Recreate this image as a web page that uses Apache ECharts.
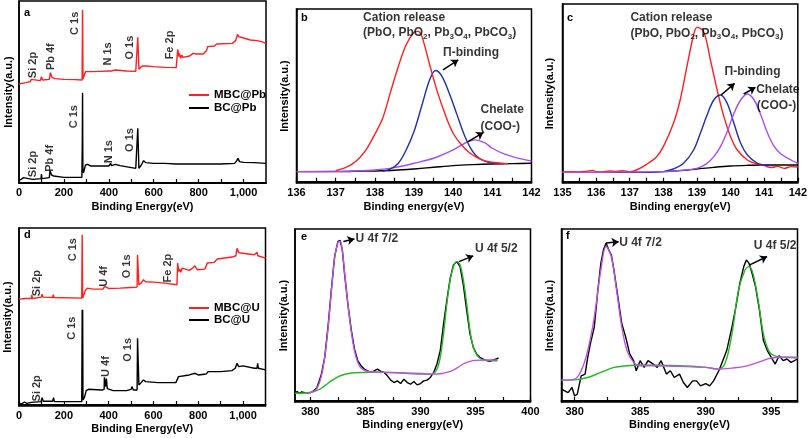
<!DOCTYPE html>
<html><head><meta charset="utf-8">
<script src="https://cdn.jsdelivr.net/npm/echarts@6/dist/echarts.min.js"></script>
<style>html,body{margin:0;padding:0;background:#fff}#c{width:810px;height:438px}</style>
</head><body><div id="c"></div><script>
const FONT = 'Liberation Sans';

// ---------- tick labels / tick positions ----------
const surveyLabels = [0, 200, 400, 600, 800, 1000];
const surveyTicks = [0, 100, 200, 300, 400, 500, 600, 700, 800, 900, 1000];
const bLabels = [136, 137, 138, 139, 140, 141, 142];
const bTicks = [136, 136.5, 137, 137.5, 138, 138.5, 139, 139.5, 140, 140.5, 141, 141.5, 142];
const cLabels = [135, 136, 137, 138, 139, 140, 141, 142];
const cTicks = [135, 135.5, 136, 136.5, 137, 137.5, 138, 138.5, 139, 139.5, 140, 140.5, 141, 141.5, 142];
const eLabels = [380, 385, 390, 395, 400];
const eTicks = [380, 382.5, 385, 387.5, 390, 392.5, 395, 397.5, 400];
const fLabels = [380, 385, 390, 395];
const fTicks = [380, 382.5, 385, 387.5, 390, 392.5, 395];

// ---------- panel a : survey, Pb ----------
const aMBC = [[0,297],[15,299],[30,301],[50,304],[55,311],[60,305],[95,307],[100,319],[105,309],[135,311],[140,331],[143,327],[147,317],[152,321],[160,313],[200,311],[250,310],[281,309],[283,519],[285,312],[290,311],[296,334],[300,337],[320,334],[360,335],[400,336],[405,342],[410,336],[430,339],[480,336],[520,335],[527,337],[529,437],[532,434],[534,341],[540,344],[548,351],[555,357],[565,351],[600,349],[650,347],[700,346],[705,345],[707,401],[710,399],[712,379],[715,389],[720,374],[725,384],[730,377],[760,381],[775,389],[780,395],[790,387],[820,387],[835,397],[840,409],[870,411],[880,417],[950,419],[965,427],[973,446],[978,439],[985,433],[1000,435],[1030,429],[1060,427],[1080,424],[1100,419]];
const aBC = [[0,9],[10,11],[20,16],[25,12],[60,11],[98,13],[100,27],[102,13],[135,16],[138,37],[142,37],[145,24],[150,27],[155,21],[160,19],[200,17],[280,17],[282,129],[283,271],[284.5,40],[287,30],[290,34],[296,54],[305,56],[320,51],[400,51],[408,59],[412,52],[430,56],[450,52],[520,44],[527,44],[529,164],[532,159],[534,44],[545,54],[555,67],[565,61],[600,59],[650,59],[700,57],[800,57],[900,57],[960,59],[970,67],[975,74],[982,64],[990,69],[1000,62],[1050,61],[1100,59]];
const aPeakLabels = [[64,354,'Si 2p'],[144,379,'Pb 4f'],[248,479,'C 1s'],[398,387,'N 1s'],[494,406,'O 1s'],[671,414,'Fe 2p'],
  [61,57,'Si 2p'],[139,74,'Pb 4f'],[245,199,'C 1s'],[401,94,'N 1s'],[496,129,'O 1s']];

// ---------- panel b : Pb 4f, BC ----------
const bCation = [[137.0,33],[137.2,40],[137.4,51],[137.6,70],[137.8,100],[138.0,142],[138.2,190],[138.4,268],[138.6,345],[138.8,410],[139.0,447],[139.1,450],[139.2,435],[139.4,350],[139.6,268],[139.8,200],[140.0,145],[140.2,112],[140.4,88],[140.6,73],[140.8,63],[141.0,58],[141.2,55],[141.4,54]];
const bPi = [[138.2,31],[138.4,38],[138.6,55],[138.8,95],[139.0,150],[139.2,228],[139.4,305],[139.55,333],[139.7,318],[139.9,265],[140.1,200],[140.3,135],[140.5,90],[140.7,67],[140.9,58],[141.1,55],[141.3,54]];
const bChelate = [[136,30],[137,31],[137.5,32],[138,35],[138.5,42],[139,55],[139.5,70],[140,95],[140.3,115],[140.55,125],[140.8,117],[141,100],[141.3,83],[141.6,72],[142,62]];
const bBackground = [[136,30],[137,30],[137.5,31],[138,32],[138.5,34],[139,38],[139.5,43],[140,48],[140.5,51],[141,53],[141.5,54],[142,55]];
const bNotes = [[137.7,490,'Cation release'],[137.7,445,'(PbO, PbO{s|2}, Pb{s|3}O{s|4}, PbCO{s|3})'],[139.74,387,'Π-binding'],[140.7,215,'Chelate'],[140.7,165,'(COO-)']];
const bArrows = [[139.74,335,140.13,365],[140.38,120,140.77,147]];

// ---------- panel c : Pb 4f, MBC ----------
const cCation = [[135,29],[135.3,30],[135.5,29],[135.7,31],[135.9,34],[136.0,30],[136.2,29],[136.4,32],[136.6,31],[136.8,33],[137.0,30],[137.2,35],[137.5,52],[137.8,75],[138.0,105],[138.3,175],[138.5,245],[138.7,345],[138.9,440],[139.0,463],[139.2,450],[139.4,365],[139.6,275],[139.8,195],[140.0,135],[140.2,95],[140.5,65],[140.8,52],[141.0,48],[141.2,42],[141.4,46],[141.6,40],[141.8,45],[142,44]];
const cPi = [[138,30],[138.3,38],[138.6,55],[138.9,95],[139.1,145],[139.3,200],[139.5,245],[139.7,260],[139.9,235],[140.1,175],[140.3,115],[140.5,80],[140.8,55],[141,50],[141.3,48]];
const cChelate = [[135,28],[136,28],[137,29],[138,30],[138.5,34],[139,40],[139.3,55],[139.5,75],[139.7,105],[139.9,150],[140.1,205],[140.3,245],[140.5,263],[140.7,245],[140.9,200],[141.1,145],[141.3,105],[141.5,83],[141.8,65],[142,55]];
const cBackground = [[135,28],[136,28],[137,28],[137.5,28],[138,30],[138.5,33],[139,38],[139.5,43],[140,47],[140.5,49],[141,50],[142,50]];
const cNotes = [[137.02,493,'Cation release'],[137.02,445,'(PbO, PbO{s|2}, Pb{s|3}O{s|4}, PbCO{s|3})'],[139.82,330,'Π-binding'],[140.76,275,'Chelate'],[140.78,227,'(COO-)']];
const cArrows = [[139.72,260,140.12,295],[140.39,263,140.74,283]];

// ---------- panel d : survey, U ----------
const dMBC = [[0,317],[30,319],[55,319],[57,330],[60,319],[100,323],[103,332],[107,323],[150,322],[153,330],[156,322],[280,320],[282,510],[284,320],[286,323],[296,343],[305,350],[330,347],[375,347],[382,355],[390,353],[400,349],[450,350],[500,352],[527,353],[529,450],[532,447],[535,360],[545,365],[555,375],[565,369],[600,368],[650,365],[705,360],[708,425],[711,423],[713,400],[718,407],[722,397],[728,410],[760,403],[775,410],[785,417],[795,405],[830,407],[840,425],[870,427],[885,437],[950,443],[968,447],[973,469],[980,457],[990,455],[1050,450],[1062,457],[1066,447],[1100,440]];
const dBC = [[0,3],[15,5],[25,9],[35,5],[55,8],[57,11],[60,7],[98,10],[103,22],[108,11],[150,11],[154,22],[158,10],[280,10],[282,285],[283,135],[284,285],[285.5,15],[292,23],[300,43],[310,47],[370,45],[380,47],[381,83],[384,83],[386,55],[390,79],[392,79],[394,49],[420,43],[480,43],[500,47],[505,55],[510,45],[527,45],[529,200],[532,195],[535,60],[545,67],[555,75],[565,70],[620,67],[700,67],[708,70],[712,85],[720,87],[760,90],[785,95],[800,90],[835,93],[845,100],[900,100],[950,103],[965,110],[973,125],[980,115],[1000,117],[1050,110],[1062,110],[1065,125],[1068,110],[1100,105]];
const dPeakLabels = [[79,365,'Si 2p'],[242,465,'C 1s'],[379,385,'U 4f'],[484,415,'O 1s'],[666,410,'Fe 2p'],
  [82,50,'Si 2p'],[235,230,'C 1s'],[388,115,'U 4f'],[487,165,'O 1s']];

// ---------- panel e : U 4f, BC ----------
const eRaw = [[378.6,25],[378.8,28],[379.0,22],[379.2,27],[379.5,25],[379.8,24],[380.0,25],[380.3,30],[380.6,40],[381.0,80],[381.3,130],[381.6,220],[381.9,330],[382.2,430],[382.5,475],[382.7,478],[382.9,450],[383.1,380],[383.4,290],[383.7,215],[384.0,155],[384.3,120],[384.6,105],[384.9,95],[385.2,90],[385.5,85],[385.8,90],[386.1,95],[386.4,88],[386.7,85],[387.0,75],[387.3,62],[387.6,55],[387.9,60],[388.2,52],[388.5,65],[388.8,55],[389.1,50],[389.4,58],[389.7,48],[390.0,52],[390.3,60],[390.6,62],[390.9,70],[391.2,85],[391.5,110],[391.8,150],[392.1,230],[392.4,300],[392.7,365],[393.0,405],[393.3,415],[393.6,400],[393.9,345],[394.2,270],[394.5,200],[394.8,160],[395.1,140],[395.4,130],[395.7,125],[396.0,120],[396.3,118],[396.6,122],[396.9,125],[397.1,128]];
const eFit72 = [[379.6,25],[380.2,27],[380.6,38],[381.0,75],[381.3,130],[381.6,215],[381.9,325],[382.2,425],[382.5,472],[382.7,475],[382.9,448],[383.1,385],[383.4,290],[383.7,210],[384.0,150],[384.3,115],[384.6,98],[385.0,90],[385.5,87],[386,86],[387,85],[388,84],[389,83],[390,82],[391,80],[392,82],[392.5,86],[393,92],[393.5,102],[394,112],[394.5,118],[395,121],[396,122],[397,122]];
const eFit52 = [[378.6,23],[379.5,24],[380.0,25],[380.5,30],[381.0,38],[381.5,50],[382.0,62],[382.5,72],[383.0,78],[383.5,82],[384.0,84],[385,85],[386,86],[387,85],[388,84],[389,82],[390,80],[391,80],[391.5,95],[391.8,130],[392.1,200],[392.4,290],[392.7,360],[393.0,400],[393.3,415],[393.6,405],[393.9,360],[394.2,290],[394.5,210],[394.8,160],[395.1,138],[395.5,125],[396,121],[396.5,120],[397,120]];
const eNotes = [[384.1,482,'U 4f 7/2'],[394.95,452,'U 4f 5/2']];
const eArrows = [[383.0,475,384.0,482],[393.5,415,394.8,432]];

// ---------- panel f : U 4f, MBC ----------
const fRaw = [[379,35],[379.5,25],[379.8,40],[380,15],[380.2,20],[380.5,75],[380.8,80],[381,130],[381.2,170],[381.5,220],[381.8,340],[382,410],[382.2,450],[382.4,470],[382.6,450],[382.8,435],[383,390],[383.3,310],[383.6,230],[383.9,190],[384.2,140],[384.5,120],[384.7,90],[385,120],[385.3,100],[385.6,120],[386,110],[386.3,100],[386.6,120],[387,80],[387.3,90],[387.6,70],[388,80],[388.3,55],[388.6,40],[389,60],[389.3,60],[389.6,45],[390,52],[390.3,45],[390.6,60],[391,90],[391.3,120],[391.6,150],[392,220],[392.3,280],[392.6,350],[392.9,400],[393.1,420],[393.3,410],[393.5,385],[393.8,340],[394.1,270],[394.4,180],[394.7,150],[395,130],[395.3,110],[395.6,135],[395.9,120],[396.2,125],[396.5,115],[397,125]];
const fFit72 = [[379,62],[380,65],[380.5,90],[381,150],[381.5,250],[382,390],[382.4,460],[382.8,430],[383.2,330],[383.6,220],[384,150],[384.5,115],[385,105],[386,105],[388,103],[390,100],[391,95],[392,98],[393,103],[394,115],[395,128],[396,130],[397,128]];
const fFit52 = [[379,62],[380,63],[381,70],[382,85],[383,100],[384,105],[385,107],[388,105],[390,100],[391,95],[391.5,115],[392,200],[392.5,330],[393,390],[393.3,400],[393.6,380],[394,300],[394.4,200],[394.8,150],[395.2,135],[396,130],[397,130]];
const fNotes = [[383.4,472,'U 4f 7/2'],[393.66,462,'U 4f 5/2']];
const fArrows = [[382.4,470,383.36,474],[393.36,405,394.68,430]];

// ---------- colours ----------
const RED = '#ff1f1f', BLUE = '#1f2fa8', VIOLET = '#a64ef2', MAGENTA = '#c04fe6', GREEN = '#25b825', BLACK = '#000';

// ---------- layout ----------
const grids = [
  {left:19, top:1, width:247, height:182},
  {left:296.5, top:9, width:235, height:174},
  {left:562.5, top:4, width:236, height:179},
  {left:19, top:228, width:246.5, height:178},
  {left:295, top:229, width:235.5, height:173},
  {left:561.5, top:229, width:236, height:173}
].map(g => Object.assign({show:true, borderColor:'#000', borderWidth:1.5, containLabel:false}, g));

const xSpec = [
  {min:0, max:1100, labels:surveyLabels, ticks:surveyTicks, name:'Binding Energy(eV)', gap:18},
  {min:136, max:142, labels:bLabels, ticks:bTicks, name:'Binding energy(eV)', gap:18},
  {min:135, max:142, labels:cLabels, ticks:cTicks, name:'Binding energy(eV)', gap:18},
  {min:0, max:1100, labels:surveyLabels, ticks:surveyTicks, name:'Binding Energy(eV)', gap:17},
  {min:378.6, max:400, labels:eLabels, ticks:eTicks, name:'Binding energy(eV)', gap:17},
  {min:379, max:397, labels:fLabels, ticks:fTicks, name:'Binding energy(eV)', gap:17}
];
const ySpec = [[0,546,5],[-4,517,6],[-4,533,7],[-3,530,6],[-3,512,6],[-3,512,6]];

const boldText = {color:'#000', fontFamily:FONT, fontWeight:'bold', fontSize:11};

const xAxes = xSpec.map((s, i) => ({
  type:'value', gridIndex:i, min:s.min, max:s.max,
  axisLine:{show:true, lineStyle:{color:'#000', width:1.8}},
  axisTick:{show:true, inside:true, length:4, lineStyle:{color:'#000', width:1.2}, customValues:s.ticks},
  axisLabel:Object.assign({customValues:s.labels, margin:4}, boldText),
  splitLine:{show:false},
  name:s.name, nameLocation:'middle', nameGap:s.gap, nameTextStyle:boldText
}));
const yAxes = ySpec.map((s, i) => ({
  type:'value', gridIndex:i, min:s[0], max:s[1],
  axisLine:{show:true, lineStyle:{color:'#000', width:1.5}},
  axisTick:{show:false}, axisLabel:{show:false}, splitLine:{show:false},
  name:'Intensity(a.u.)', nameLocation:'middle', nameGap:s[2], nameTextStyle:boldText
}));

function line(gi, data, color, smooth, name) {
  return {type:'line', name:name, xAxisIndex:gi, yAxisIndex:gi, data:data, showSymbol:false, symbol:'none',
    smooth:smooth ? 0.35 : false, lineStyle:{color:color, width:1.4}, itemStyle:{color:color}, z:3};
}
const sub = {s:{fontSize:8, fontWeight:'bold', fontFamily:FONT, color:'#000', padding:[7,0,0,0], lineHeight:10}};
function notes(gi, items, extra, arrows) {
  const s = {
    type:'scatter', xAxisIndex:gi, yAxisIndex:gi, symbolSize:0, silent:true, z:6,
    data:items.map(it => ({value:[it[0], it[1]], label:{formatter:it[2]}})),
    label:Object.assign({show:true, color:'#000', fontFamily:FONT, fontWeight:'bold', fontSize:12}, extra)
  };
  if (arrows) {
    s.markLine = {silent:true, symbol:['none','arrow'], symbolSize:7, animation:false,
      lineStyle:{color:'#000', width:1.5, type:'solid'}, label:{show:false},
      data:arrows.map(a => [{coord:[a[0], a[1]]}, {coord:[a[2], a[3]]}])};
  }
  return s;
}
const rotated = {rotate:90, position:'inside', fontSize:11};
const leftText = {position:'right', distance:0, lineHeight:16, rich:sub};

const series = [
  line(0, aMBC, RED, false, 'MBC@Pb'), line(0, aBC, BLACK, false, 'BC@Pb'),
  notes(0, aPeakLabels, rotated),
  line(1, bBackground, BLACK, true), line(1, bChelate, VIOLET, true), line(1, bPi, BLUE, true), line(1, bCation, RED, true),
  notes(1, bNotes, leftText, bArrows),
  line(2, cBackground, BLACK, true), line(2, cCation, RED, true), line(2, cPi, BLUE, true), line(2, cChelate, VIOLET, true),
  notes(2, cNotes, leftText, cArrows),
  line(3, dMBC, RED, false, 'MBC@U'), line(3, dBC, BLACK, false, 'BC@U'),
  notes(3, dPeakLabels, rotated),
  line(4, eRaw, BLACK, false), line(4, eFit52, GREEN, true), line(4, eFit72, MAGENTA, true),
  notes(4, eNotes, leftText, eArrows),
  line(5, fRaw, BLACK, false), line(5, fFit52, GREEN, true), line(5, fFit72, MAGENTA, true),
  notes(5, fNotes, leftText, fArrows)
];

const legendText = {color:'#000', fontFamily:FONT, fontWeight:'bold', fontSize:11.5};
const legends = [
  {data:['MBC@Pb','BC@Pb'], orient:'vertical', left:184, top:84, itemWidth:20, itemHeight:2, itemGap:1, icon:'rect', selectedMode:false, textStyle:legendText},
  {data:['MBC@U','BC@U'], orient:'vertical', left:184, top:297, itemWidth:20, itemHeight:2, itemGap:0, icon:'rect', selectedMode:false, textStyle:legendText}
];

const panelLetters = [['a',24,7],['b',301,12],['c',567,12],['d',24,229],['e',301,231],['f',566,230]];
const graphic = panelLetters.map(p => ({type:'text', left:p[1], top:p[2], z:10,
  style:{text:p[0], font:'bold 11px ' + FONT, fill:'#000'}}));

const chart = echarts.init(document.getElementById('c'), null, {renderer:'canvas'});
chart.setOption({
  animation:false, backgroundColor:'#fff',
  grid:grids, xAxis:xAxes, yAxis:yAxes, series:series, legend:legends, graphic:graphic
});
</script></body></html>
